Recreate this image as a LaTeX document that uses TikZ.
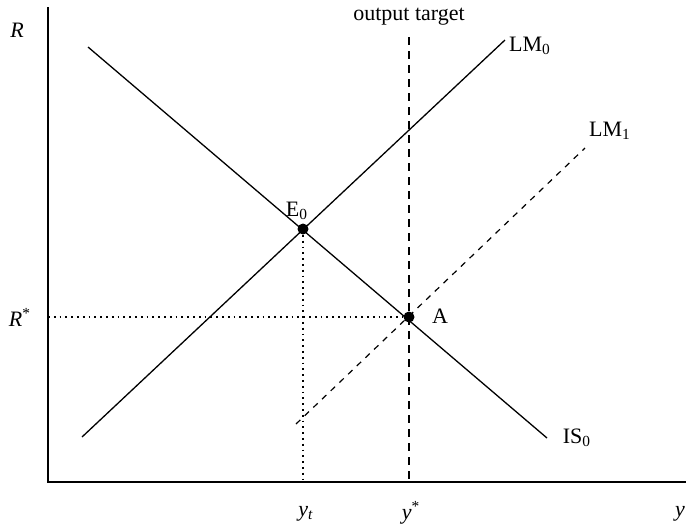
\documentclass[tikz,border=0pt]{standalone}
\usepackage{fontspec}
\setmainfont{Liberation Serif}
\usetikzlibrary{positioning}

\begin{document}
\begin{tikzpicture}[x=0.5pt,y=-0.5pt,
 curve/.style={line width=0.65pt},
 axis/.style={line width=1pt},
 guide/.style={line width=0.9pt,dotted},
 target/.style={line width=1pt,dash pattern=on 4pt off 3pt},
 shifted/.style={line width=0.6pt,dash pattern=on 3pt off 3pt},
 pt/.style={circle,fill,inner sep=0pt,minimum size=5.5pt},
 lbl/.style={font=\fontsize{11}{13}\selectfont,inner sep=1pt}]
\useasboundingbox (0,0) rectangle (686,526);
% axes
\coordinate (top) at (48,7);
\coordinate (o) at (48,482);
\coordinate (right) at (686,482);
\draw[axis] (top) -- (o) -- (right);
\node[lbl] (R) at (17,30) {\textit{R}};
\node[lbl] (y) at (680,514) {\textit{y}};
% curves
\coordinate (is1) at (88,47);
\coordinate (is2) at (547,438);
\coordinate (lm1) at (82,437);
\coordinate (lm2) at (505,40);
\coordinate (ln1) at (296,424);
\coordinate (ln2) at (585,148);
\coordinate (tg1) at (409,37);
\coordinate (tg2) at (409,482);
\draw[curve] (is1) -- (is2);
\draw[curve] (lm1) -- (lm2);
\draw[shifted] (ln1) -- (ln2);
\draw[target] (tg1) -- (tg2);
\node[lbl] (IS) at (577,438) {IS\textsubscript{0}};
\node[lbl] (LM0) at (530,46) {LM\textsubscript{0}};
\node[lbl] (LM1) at (610,131) {LM\textsubscript{1}};
\node[lbl] (out) at (409,17) {output target};
% equilibria
\node[pt] (E) at (303,229) {};
\node[pt] (A) at (409,317) {};
\node[lbl] (Elbl) at (297,211) {E\textsubscript{0}};
\node[lbl] (Albl) at (440,316) {A};
\coordinate (yt) at (303,482);
\coordinate (rs) at (48,317);
\draw[guide] (E) -- (yt);
\draw[guide] (rs) -- (A);
\node[lbl] (Rs) at (20,317) {\textit{R}\textsuperscript{*}};
\node[lbl] (ytl) at (306,514) {\textit{y}\textsubscript{\textit{t}}};
\node[lbl] (ysl) at (411,513) {\textit{y}\textsuperscript{*}};
\end{tikzpicture}
\end{document}
